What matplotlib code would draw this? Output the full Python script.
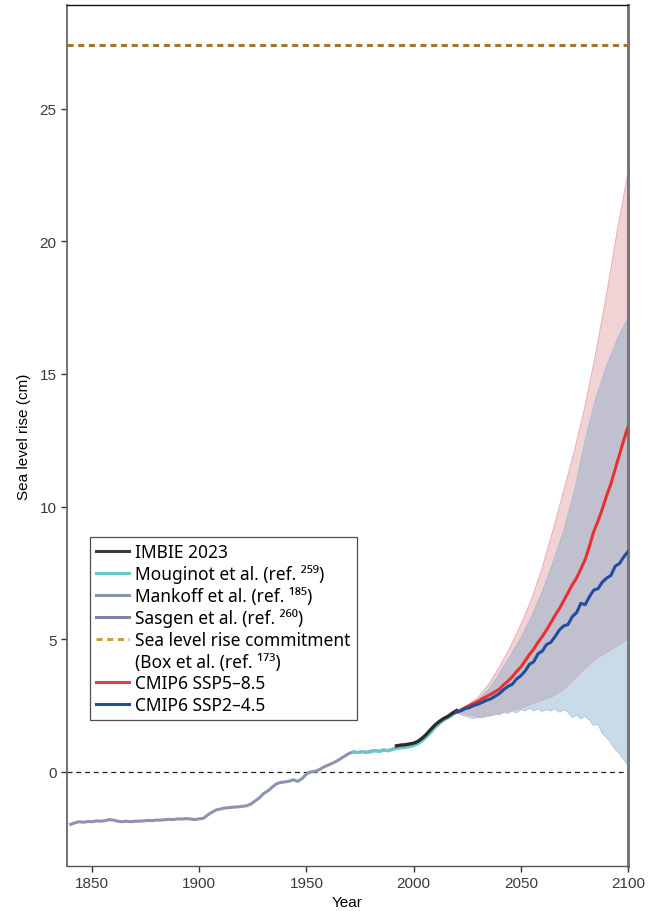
import numpy as np
import matplotlib
matplotlib.use("Agg")
import matplotlib.pyplot as plt

plt.rcParams['font.family'] = ['Liberation Sans', 'Noto Sans', 'DejaVu Sans']

#----------------------------------------------------------------------
# Observations / reconstructions (cm sea level rise)

mankoff_years = [1840, 1842, 1844, 1846, 1848, 1850, 1852, 1854, 1856, 1858,
                 1860, 1862, 1864, 1866, 1868, 1870, 1872, 1874, 1876, 1878,
                 1880, 1882, 1884, 1886, 1888, 1890, 1892, 1894, 1896, 1898,
                 1900, 1902, 1904, 1906, 1908, 1910, 1912, 1914, 1916, 1918,
                 1920, 1922, 1924, 1926, 1928, 1930, 1932, 1934, 1936, 1938,
                 1940, 1942, 1944, 1946, 1948, 1950, 1952, 1954, 1956, 1958,
                 1960, 1962, 1964, 1966, 1968, 1970, 1972, 1974, 1976, 1978,
                 1980, 1982, 1984, 1986, 1988, 1990, 1992, 1994, 1996, 1998,
                 2000, 2002, 2004, 2006, 2008, 2010, 2012, 2014, 2016, 2018, 2020]
mankoff_slr = [-1.98, -1.92, -1.88, -1.90, -1.87, -1.88, -1.85, -1.86, -1.84, -1.80,
               -1.82, -1.86, -1.88, -1.86, -1.88, -1.86, -1.86, -1.85, -1.83, -1.84,
               -1.82, -1.82, -1.80, -1.79, -1.80, -1.77, -1.78, -1.76, -1.78, -1.80,
               -1.77, -1.75, -1.62, -1.52, -1.43, -1.40, -1.36, -1.35, -1.33, -1.32,
               -1.30, -1.28, -1.22, -1.10, -0.98, -0.82, -0.72, -0.58, -0.45, -0.40,
               -0.38, -0.35, -0.30, -0.36, -0.25, -0.08, 0.00, 0.02, 0.08, 0.18,
               0.25, 0.32, 0.40, 0.50, 0.60, 0.70, 0.75, 0.73, 0.76, 0.74,
               0.78, 0.80, 0.78, 0.82, 0.80, 0.85, 0.92, 0.95, 0.98, 1.00,
               1.05, 1.12, 1.25, 1.38, 1.55, 1.72, 1.85, 1.97, 2.05, 2.15, 2.25]

mouginot_years = [1972, 1974, 1976, 1978, 1980, 1982, 1984, 1986, 1988, 1990,
                  1992, 1994, 1996, 1998, 2000, 2002, 2004, 2006, 2008, 2010,
                  2012, 2014, 2016, 2018]
mouginot_slr = [0.76, 0.72, 0.77, 0.72, 0.75, 0.80, 0.76, 0.83, 0.79, 0.84,
                0.88, 0.90, 0.92, 0.95, 0.99, 1.05, 1.17, 1.31, 1.48, 1.67,
                1.82, 1.95, 2.04, 2.13]

sasgen_years = [2002, 2004, 2006, 2008, 2010, 2012, 2014, 2016, 2018, 2020]
sasgen_slr = [1.11, 1.24, 1.37, 1.55, 1.72, 1.86, 1.97, 2.06, 2.16, 2.26]

imbie_years = [1992, 1994, 1996, 1998, 2000, 2002, 2004, 2006, 2008, 2010,
               2012, 2014, 2016, 2018, 2020]
imbie_slr = [0.98, 1.01, 1.02, 1.05, 1.08, 1.15, 1.27, 1.42, 1.60, 1.77,
             1.90, 2.01, 2.09, 2.21, 2.31]

commitment = 27.4

#----------------------------------------------------------------------
# CMIP6 projections

proj_years = [2020, 2022, 2024, 2026, 2028, 2030, 2032, 2034, 2036, 2038,
              2040, 2042, 2044, 2046, 2048, 2050, 2052, 2054, 2056, 2058,
              2060, 2062, 2064, 2066, 2068, 2070, 2072, 2074, 2076, 2078,
              2080, 2082, 2084, 2086, 2088, 2090, 2092, 2094, 2096, 2098, 2100]
ssp585_median = [2.25, 2.33, 2.42, 2.50, 2.58, 2.66, 2.75, 2.84, 2.92, 3.02,
                 3.12, 3.28, 3.42, 3.58, 3.78, 3.95, 4.18, 4.42, 4.62, 4.88,
                 5.10, 5.35, 5.62, 5.90, 6.15, 6.45, 6.75, 7.05, 7.30, 7.65,
                 8.00, 8.50, 9.05, 9.45, 9.90, 10.40, 10.85, 11.40, 11.95, 12.50, 13.00]
ssp245_median = [2.25, 2.30, 2.38, 2.42, 2.50, 2.55, 2.62, 2.70, 2.75, 2.85,
                 2.95, 3.10, 3.22, 3.30, 3.50, 3.62, 3.80, 4.05, 4.15, 4.45,
                 4.55, 4.80, 4.88, 5.10, 5.35, 5.50, 5.55, 5.85, 6.00, 6.35,
                 6.30, 6.60, 6.85, 6.90, 7.15, 7.30, 7.40, 7.75, 7.85, 8.10, 8.30]
ssp245_lower = [2.25, 2.15, 2.10, 2.05, 2.02, 2.05, 2.03, 2.10, 2.12, 2.20,
                2.15, 2.25, 2.20, 2.30, 2.22, 2.35, 2.30, 2.40, 2.30, 2.38,
                2.28, 2.35, 2.30, 2.38, 2.25, 2.35, 2.25, 2.05, 2.15, 2.00,
                2.10, 1.95, 1.75, 1.80, 1.45, 1.30, 1.10, 0.85, 0.70, 0.45, 0.25]

band_years = [2020, 2025, 2030, 2035, 2040, 2045, 2050, 2055, 2060,
              2065, 2070, 2075, 2080, 2085, 2090, 2095, 2100]
ssp585_upper = [2.30, 2.50, 2.80, 3.30, 3.95, 4.70, 5.55, 6.50, 7.70,
                9.10, 10.60, 12.10, 13.80, 15.80, 18.00, 20.40, 22.60]
ssp585_lower = [2.25, 2.15, 2.08, 2.10, 2.20, 2.30, 2.40, 2.55, 2.70,
                2.85, 3.10, 3.50, 3.90, 4.25, 4.50, 4.75, 5.00]
ssp245_upper = [2.30, 2.45, 2.70, 3.10, 3.70, 4.35, 5.05, 5.85, 6.80,
                7.90, 9.10, 10.60, 12.50, 14.10, 15.30, 16.30, 17.10]

#----------------------------------------------------------------------
# Plot

fig = plt.figure(figsize=(6.55, 9.12), dpi=100)
ax = fig.add_axes([0.1023, 0.0493, 0.8565, 0.9441])

# uncertainty bands (red first, blue over it)
ax.fill(np.r_[band_years, band_years[::-1]],
        np.r_[ssp585_upper, ssp585_lower[::-1]],
        facecolor='#dc8189', alpha=0.35, edgecolor='none', zorder=1)
ax.plot(band_years, ssp585_upper, color='#eab0b5', lw=0.7, zorder=1)
ax.fill(np.r_[band_years, proj_years[::-1]],
        np.r_[ssp245_upper, ssp245_lower[::-1]],
        facecolor='#78a5c8', alpha=0.4, edgecolor='none', zorder=2)
ax.plot(band_years, ssp245_upper, color='#b0bccf', lw=0.7, zorder=2)
ax.plot(proj_years, ssp245_lower, color='#aec6dc', lw=0.7, zorder=2)
ax.plot(band_years, ssp585_lower, color='#cbb3c1', lw=0.7, zorder=2)

ax.axhline(0, color='#222222', lw=0.9, ls=(0, (4, 3)), zorder=2)
ax.axhline(commitment, color='#9a7b2f', lw=2.2, ls=(0, (2, 1.5)), zorder=3)

ax.plot(mankoff_years, mankoff_slr, color='#8d94b2', lw=2.2, zorder=4)
ax.plot(sasgen_years, sasgen_slr, color='#7a879e', lw=2.2, zorder=4)
ax.plot(mouginot_years, mouginot_slr, color='#6cc6c8', lw=2.2, zorder=5)
ax.plot(imbie_years, imbie_slr, color='#2b2b2b', lw=2.4, zorder=6)

ax.plot(proj_years, ssp585_median, color='#e8312f', lw=2.2, zorder=7)
ax.plot(proj_years, ssp245_median, color='#1f4e9c', lw=2.2, zorder=7)

ax.set_xlim(1838.3, 2100)
ax.set_ylim(-3.55, 28.9)
ax.set_xticks([1850, 1900, 1950, 2000, 2050, 2100])
ax.set_yticks([0, 5, 10, 15, 20, 25])
ax.tick_params(labelsize=11, labelcolor='#3a3a3a', length=4, width=1, color='#333333')
ax.set_xlabel('Year', fontsize=11, labelpad=3)
ax.set_ylabel('Sea level rise (cm)', fontsize=11, labelpad=6)

ax.spines['left'].set_color('#666666')
ax.spines['left'].set_linewidth(1.3)
ax.spines['bottom'].set_color('#555555')
ax.spines['bottom'].set_linewidth(1.0)
ax.spines['top'].set_color('#111111')
ax.spines['top'].set_linewidth(1.0)
ax.spines['right'].set_color('#777777')
ax.spines['right'].set_linewidth(2.2)

# legend (second line of the commitment entry is its own row, no handle)
handles = [
    plt.Line2D([], [], color='#3a3a3a', lw=2.2),
    plt.Line2D([], [], color='#6cc6c8', lw=2.2),
    plt.Line2D([], [], color='#8d94b2', lw=2.2),
    plt.Line2D([], [], color='#7a879e', lw=2.2),
    plt.Line2D([], [], color='#c9a13a', lw=2.2, ls=(0, (2, 1.5))),
    plt.Line2D([], [], color='none', lw=0),
    plt.Line2D([], [], color='#d8434a', lw=2.2),
    plt.Line2D([], [], color='#1f4e9c', lw=2.2),
]
labels = [
    'IMBIE 2023',
    'Mouginot et al. (ref. \u00b2\u2075\u2079)',
    'Mankoff et al. (ref. \u00b9\u2078\u2075)',
    'Sasgen et al. (ref. \u00b2\u2076\u2070)',
    'Sea level rise commitment',
    '(Box et al. (ref. \u00b9\u2077\u00b3)',
    'CMIP6 SSP5\u20138.5',
    'CMIP6 SSP2\u20134.5',
]
leg = ax.legend(handles, labels, loc='lower left', bbox_to_anchor=(0.041, 0.1696),
                prop={'family': ['Noto Sans', 'DejaVu Sans'], 'size': 12.5},
                frameon=True, fancybox=False, handlelength=1.9,
                handletextpad=0.35, borderpad=0.35, labelspacing=0.21,
                borderaxespad=0)
leg.get_frame().set_edgecolor('#222222')
leg.get_frame().set_linewidth(0.9)
leg.set_zorder(10)

fig.savefig('out.png', dpi=100)
